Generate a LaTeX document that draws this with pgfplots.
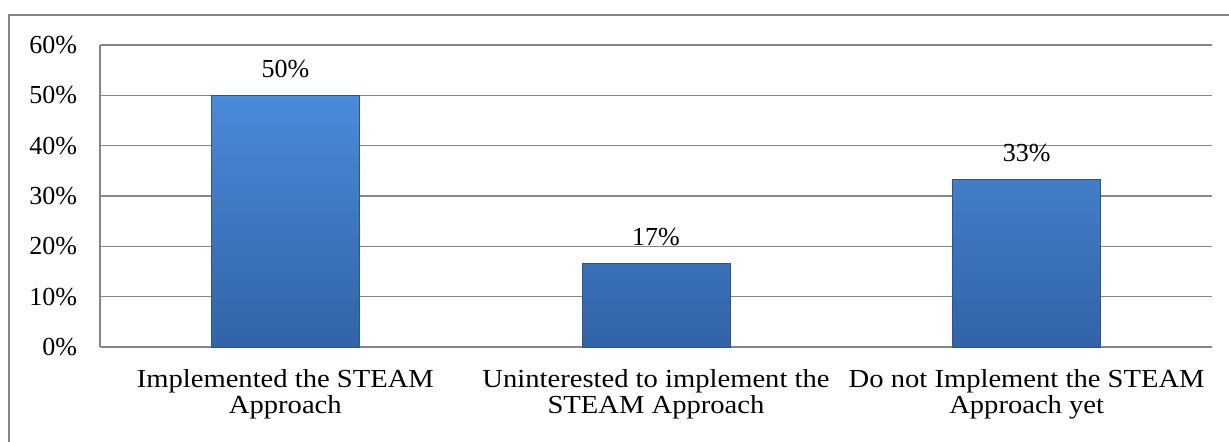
\documentclass[border=0pt]{standalone}
\usepackage{pgfplots}
\pgfplotsset{compat=1.18}
\usepackage{fontspec}
\setmainfont{Liberation Serif}
\newfontfamily\catfont{Liberation Serif}[FakeStretch=1.1]
\definecolor{gridgray}{RGB}{134,134,134}
\definecolor{bartop}{RGB}{74,139,218}
\definecolor{barbot}{RGB}{50,99,166}
\definecolor{baredge}{RGB}{44,84,140}
\begin{document}
\begin{tikzpicture}
\useasboundingbox (0,0) rectangle (614.5pt,220.5pt);
\draw[gridgray, line width=0.6pt] (4.5pt,-5pt) -- (4.5pt,213pt) -- (620pt,213pt);
\begin{axis}[
  at={(50pt,47pt)}, anchor=south west,
  scale only axis,
  width=556pt, height=151pt,
  xmin=-0.5, xmax=2.5,
  ymin=0, ymax=60,
  ytick={0,10,20,30,40,50,60},
  yticklabels={0\%,10\%,20\%,30\%,40\%,50\%,60\%},
  xtick={0,1,2},
  xticklabels={{Implemented the STEAM\\Approach},{Uninterested to implement the\\STEAM Approach},{Do not Implement the STEAM\\Approach yet}},
  axis x line=bottom, axis y line=left,
  axis line style={gridgray, line width=0.8pt, -},
  ymajorgrids, grid style={gridgray, line width=0.8pt},
  major tick length=0pt,
  tick label style={font=\fontsize{13pt}{12.5pt}\selectfont, text=black},
  yticklabel style={xshift=-8pt},
  xticklabel style={align=center, yshift=-7.5pt, font=\catfont\fontsize{13pt}{13pt}\selectfont},
  /pgf/number format/assume math mode=true,
  ybar, bar width=74pt,
  nodes near coords,
  point meta=explicit symbolic,
  every node near coord/.append style={font=\fontsize{13pt}{13pt}\selectfont, text=black, yshift=5pt},
]
\addplot[draw=baredge, line width=0.5pt, top color=bartop, bottom color=barbot] coordinates {
  (0,50) [50\%]
  (1,16.67) [17\%]
  (2,33.33) [33\%]
};
\end{axis}
\end{tikzpicture}
\end{document}
